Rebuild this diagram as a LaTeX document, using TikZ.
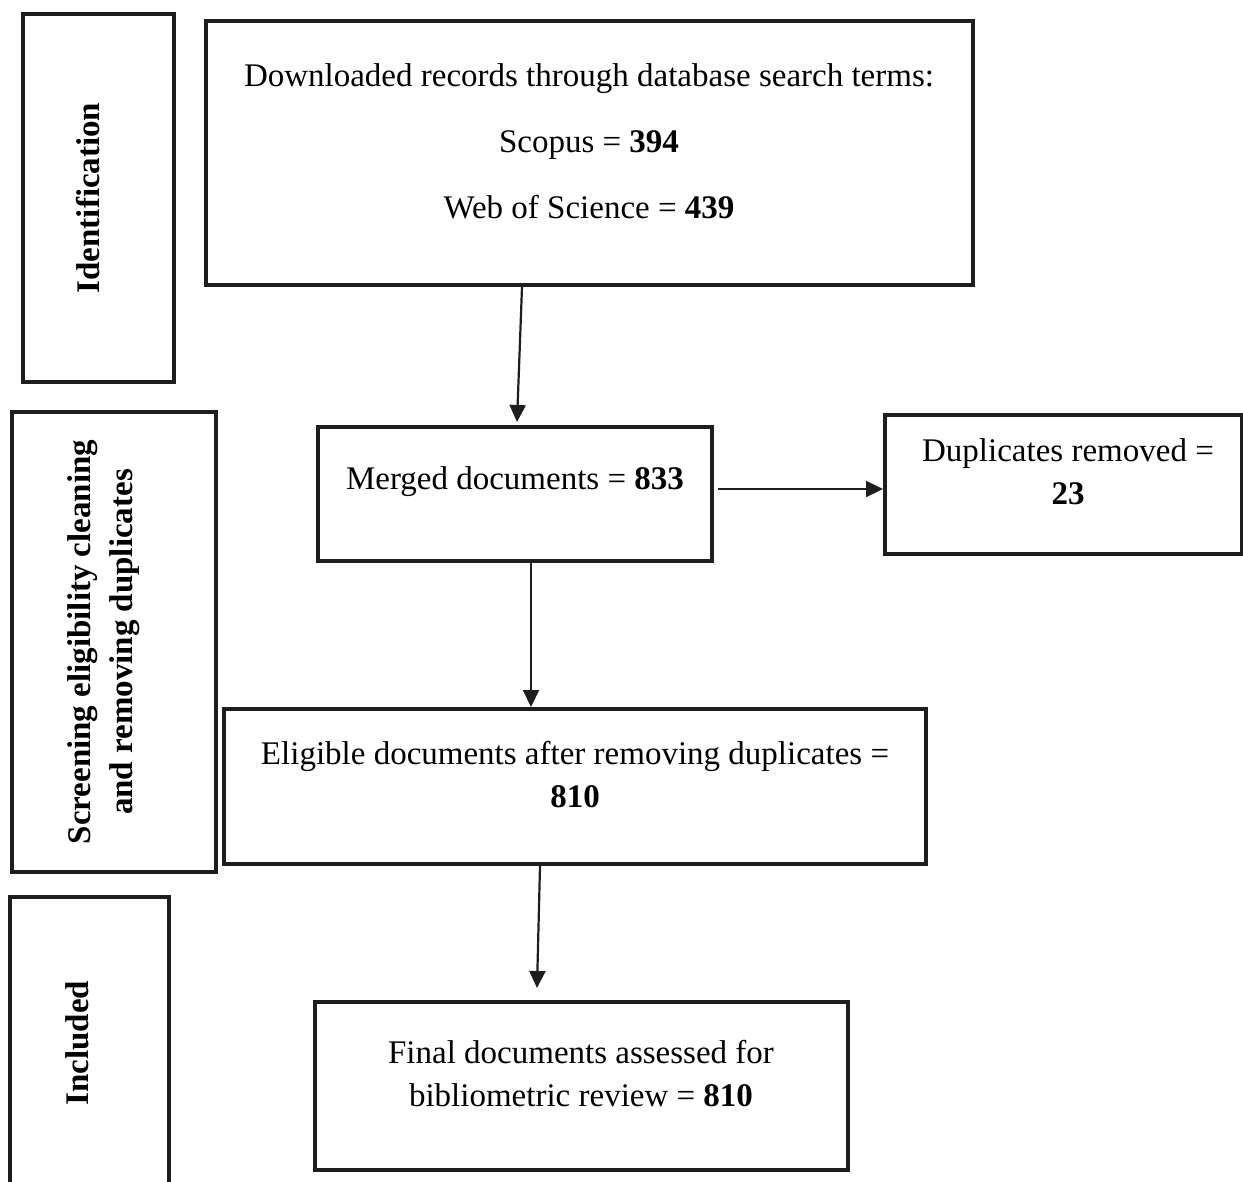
\documentclass[tikz,border=0pt]{standalone}
\usepackage{fontspec}
\setmainfont{Liberation Serif}
\usetikzlibrary{arrows.meta}
\definecolor{ink}{HTML}{1E1E1E}
\begin{document}
\begin{tikzpicture}[x=1pt,y=-1pt,
  box/.style={draw=ink,line width=4pt,rectangle,inner sep=0pt},
  txt/.style={align=center,inner sep=0pt,text=black,font=\fontsize{33}{43}\selectfont},
  side/.style={align=center,inner sep=0pt,rotate=90,text=black,font=\fontsize{33}{42}\selectfont\bfseries},
  arr/.style={draw=ink,line width=2.2pt,-{Triangle[length=17pt,width=16pt]}}]
\useasboundingbox (0,0) rectangle (1243,1182);
\clip (0,0) rectangle (1243,1182);
% phase boxes
\node[box,minimum width=151pt,minimum height=368pt] (ident) at (98.5,198) {};
\node[side] (identt) at (88,198) {Identification};
\node[box,minimum width=204pt,minimum height=460pt] (screen) at (114,642) {};
\node[side] (screent) at (104,642) {Screening eligibility cleaning\\and removing duplicates};
\node[box,minimum width=159pt,minimum height=320pt] (incl) at (89.5,1057) {};
\node[side] (inclt) at (77,1043) {Included};
% flow boxes
\node[box,minimum width=767pt,minimum height=264pt] (top) at (589.5,153) {};
\node[txt,font=\fontsize{33}{66}\selectfont] (topt) at (589,141) {Downloaded records through database search terms:\\Scopus = \textbf{394}\\Web of Science = \textbf{439}};
\node[box,minimum width=394pt,minimum height=134pt] (merged) at (515,494) {};
\node[txt] (mergedt) at (515,482) {Merged documents = \textbf{833}};
\node[box,minimum width=357pt,minimum height=139pt] (dup) at (1063.5,484.5) {};
\node[txt] (dupt) at (1068,472) {Duplicates removed =\\\textbf{23}};
\node[box,minimum width=702pt,minimum height=155pt] (elig) at (575,786.5) {};
\node[txt] (eligt) at (575,775) {Eligible documents after removing duplicates =\\\textbf{810}};
\node[box,minimum width=533pt,minimum height=168pt] (final) at (581.5,1086) {};
\node[txt] (finalt) at (581,1074) {Final documents assessed for\\bibliometric review = \textbf{810}};
% connectors
\draw[arr] ([xshift=-67.5pt]top.south) -- ([xshift=2pt,yshift=3pt]merged.north);
\draw[arr] ([xshift=4pt,yshift=5pt]merged.east) -- ([yshift=5pt]merged.east -| dup.west);
\draw[arr] ([xshift=16pt]merged.south) -- ([xshift=16pt]merged.south |- elig.north);
\draw[arr] ([xshift=-35pt]elig.south) -- ([xshift=-44.5pt,yshift=12pt]final.north);
\end{tikzpicture}
\end{document}
